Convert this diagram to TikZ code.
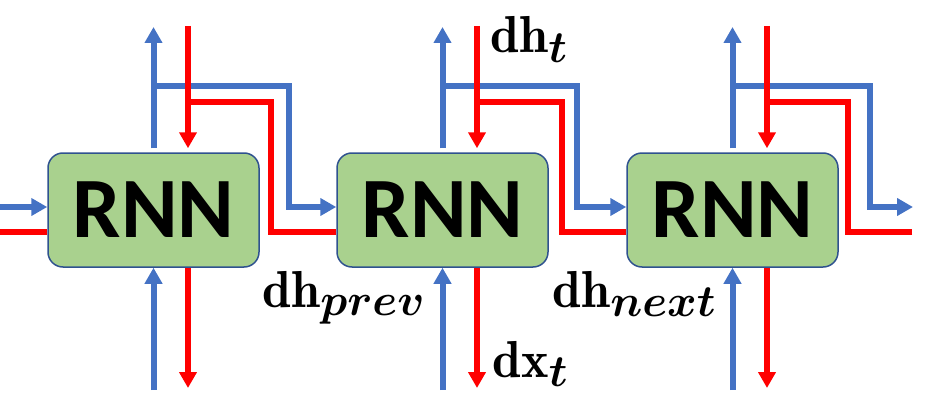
\documentclass[tikz,border=0pt]{standalone}
\usepackage{amsmath,bm}
\usepackage{fontspec}
\usepackage{xcolor}
\usepackage{tikz}
\usetikzlibrary{arrows.meta,calc}
\newfontfamily\rnnfont{Carlito}
\DeclareMathSizes{20}{20}{16}{12}
\definecolor{RNNBlue}{HTML}{4472C4}
\definecolor{RNNRed}{HTML}{FF0000}
\definecolor{RNNGreen}{HTML}{A9D18E}
\definecolor{RNNEdge}{HTML}{2F528F}
\tikzset{
  rnncell/.style={rounded corners=15pt, draw=RNNEdge, line width=1.5pt, fill=RNNGreen,
    minimum width=211pt, minimum height=114pt, inner sep=0pt,
    font=\rnnfont\bfseries\fontsize{86}{86}\selectfont},
  fwdarrow/.style={draw=RNNBlue, line width=6pt, -{Triangle[width=17pt,length=16pt]}},
  bwdarrow/.style={draw=RNNRed, line width=6pt, -{Triangle[width=17pt,length=16pt]}},
  bwdline/.style={draw=RNNRed, line width=6pt},
  gradlabel/.style={inner sep=0pt, anchor=base west, scale=2.6,
    font=\fontsize{20}{20}\selectfont}
}
\begin{document}
\begin{tikzpicture}[x=1pt, y=-1pt]
  \useasboundingbox (0,0) rectangle (933,409);

  \node[rnncell] (rnn1) at (153.5,210) {RNN};
  \node[rnncell] (rnn2) at (442.5,210) {RNN};
  \node[rnncell] (rnn3) at (732.5,210) {RNN};

  % free ends and corners
  \coordinate (inb) at (0,207);
  \coordinate (inr) at (0,232);
  \coordinate (outb) at (913,207);
  \coordinate (outr) at (912,232);
  \foreach \n/\cx in {1/153.5, 2/442.5, 3/732.5} {
    \coordinate (ht\n) at (\cx,27);
    \coordinate (dh\n) at (\cx+34.5,26);
    \coordinate (xt\n) at (\cx,390);
    \coordinate (dx\n) at (\cx+34.5,388);
    \coordinate (hb\n) at (\cx,86);
    \coordinate (hr\n) at (\cx+34.5,102);
  }
  \coordinate (hbx1) at (289,207);
  \coordinate (hrx1) at (271,232);
  \coordinate (hbx2) at (577,207);
  \coordinate (hrx2) at (562,232);
  \coordinate (hbx3) at (870,207);
  \coordinate (hrx3) at (848,232);

  % forward pass
  \draw[fwdarrow] (inb) -- (inb -| rnn1.west);
  \foreach \n in {1,2,3} {
    \draw[fwdarrow, shorten <=4pt] (rnn\n.north) -- (ht\n);
    \draw[fwdarrow] (xt\n) -- (rnn\n.south);
  }
  \draw[fwdarrow] (hb1) -| (hbx1) -- (hbx1 -| rnn2.west);
  \draw[fwdarrow] (hb2) -| (hbx2) -- (hbx2 -| rnn3.west);
  \draw[fwdarrow] (hb3) -| (hbx3) -- (outb);

  % backward pass
  \draw[bwdline] (inr -| rnn1.west) -- (inr);
  \foreach \n in {1,2,3} {
    \draw[bwdarrow, shorten >=4pt] (dh\n) -- (dh\n |- rnn\n.north);
    \draw[bwdarrow] (dx\n |- rnn\n.south) -- (dx\n);
  }
  \draw[bwdline] (hrx1 -| rnn2.west) -- (hrx1) |- (hr1);
  \draw[bwdline] (hrx2 -| rnn3.west) -- (hrx2) |- (hr2);
  \draw[bwdline] (outr) -- (hrx3) |- (hr3);

  \node[gradlabel] (dht) at (490,53) {$\mathbf{dh}_{\bm{t}}$};
  \node[gradlabel] (dxt) at (492,377) {$\mathbf{dx}_{\bm{t}}$};
  \node[gradlabel] (dhprev) at (262,307) {$\mathbf{dh}_{\bm{prev}}$};
  \node[gradlabel] (dhnext) at (552,307) {$\mathbf{dh}_{\bm{next}}$};
\end{tikzpicture}
\end{document}
